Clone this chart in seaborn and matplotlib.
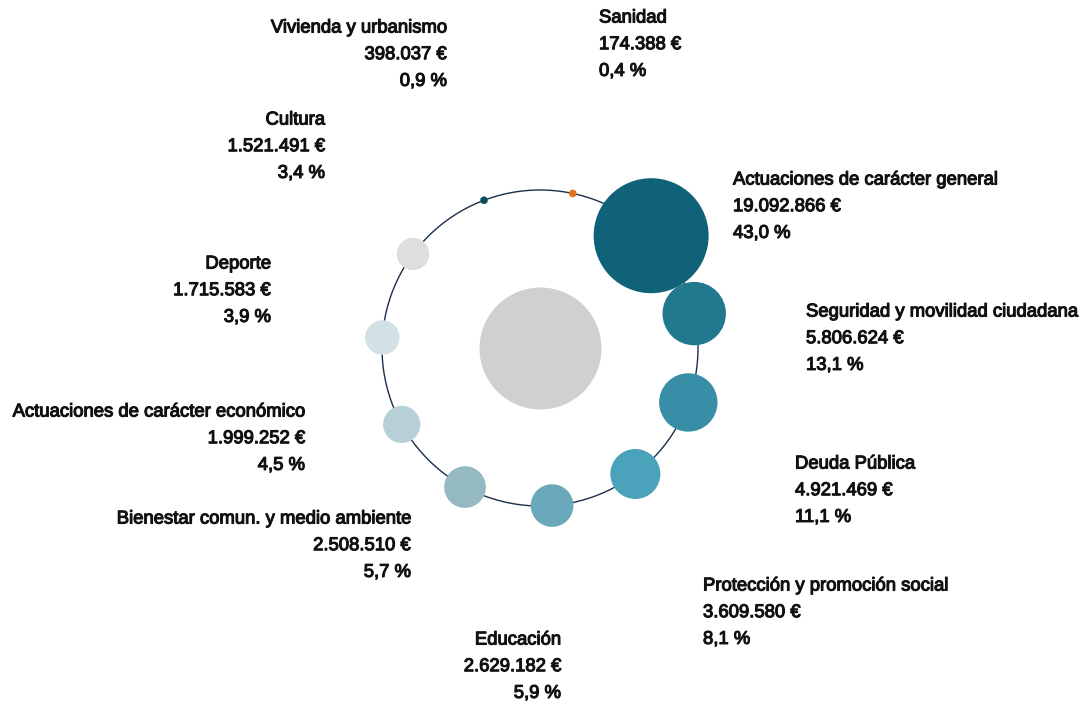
import numpy as np
import pandas as pd
import matplotlib
matplotlib.use("Agg")
import matplotlib.pyplot as plt
import matplotlib.patheffects as pe
from matplotlib.patches import Circle
import seaborn as sns

# Budget by spending area (euros), clockwise from the largest
categories = [
    "Actuaciones de carácter general",
    "Seguridad y movilidad ciudadana",
    "Deuda Pública",
    "Protección y promoción social",
    "Educación",
    "Bienestar comun. y medio ambiente",
    "Actuaciones de carácter económico",
    "Deporte",
    "Cultura",
    "Vivienda y urbanismo",
    "Sanidad",
]
amounts = [19092866, 5806624, 4921469, 3609580, 2629182,
           2508510, 1999252, 1715583, 1521491, 398037, 174388]
colors = ["#0f6278", "#22788f", "#388ea6", "#4aa3bb", "#69a9bb",
          "#95b9c2", "#b7d0d8", "#d2e1e6", "#dedede", "#0c4b5c", "#e07020"]

# Layout (pixel space of the figure)
W, H = 1085, 702
CX, CY, R = 540, 348, 158
START_DEG = 44.7
DOT_LIMIT = 500000          # amounts below this are shown as small dots
MAX_AREA = 6856             # marker area (pt^2) of the largest bubble

# label anchors: x, y of first line centre, alignment
label_pos = [
    (733, 180, "left"), (806, 312, "left"), (795, 464, "left"),
    (703, 586, "left"), (561, 640, "right"), (411, 519, "right"),
    (305, 412, "right"), (271, 264, "right"), (325, 120, "right"),
    (447, 28, "right"), (599, 18, "left"),
]
LINE_GAP = 26.7

total = sum(amounts)
n = len(categories)
ang = np.deg2rad(START_DEG + np.arange(n) * 360.0 / n)
df = pd.DataFrame({
    "cat": categories,
    "amount": amounts,
    "x": CX + R * np.sin(ang),
    "y": CY - R * np.cos(ang),
})

fig = plt.figure(figsize=(W / 100, H / 100), dpi=100)
ax = fig.add_axes([0, 0, 1, 1])

# central disc and orbit
ax.scatter([CX], [CY], s=7714, color="#d0d0d0", linewidths=0, zorder=1)
ax.add_patch(Circle((CX, CY), R, fill=False, edgecolor="#1b2f4b",
                    linewidth=1.0, zorder=2))

palette = dict(zip(categories, colors))
big = df[df["amount"] >= DOT_LIMIT]
small = df[df["amount"] < DOT_LIMIT]
sns.scatterplot(data=big, x="x", y="y", hue="cat", palette=palette,
                size="amount", sizes=(0, MAX_AREA),
                size_norm=(0, max(amounts)), linewidth=0, alpha=1,
                legend=False, ax=ax, zorder=3)
sns.scatterplot(data=small, x="x", y="y", hue="cat", palette=palette,
                s=30, linewidth=0, legend=False, ax=ax, zorder=3)
ax.set_xlim(0, W)
ax.set_ylim(H, 0)
ax.set_aspect("equal")
ax.axis("off")


def fmt_eur(v):
    return f"{v:,}".replace(",", ".") + " €"


def fmt_pct(v):
    return f"{v:.1f}".replace(".", ",") + " %"


stroke = [pe.withStroke(linewidth=0.8, foreground="#111111")]
for (name, amt), (lx, ly, ha) in zip(zip(categories, amounts), label_pos):
    lines = [name, fmt_eur(amt), fmt_pct(amt / total * 100)]
    for i, t in enumerate(lines):
        ax.text(lx, ly + i * LINE_GAP, t, ha=ha, va="center",
                fontsize=13.3, family="Liberation Sans", color="#111111",
                path_effects=stroke)

fig.savefig("out.png", dpi=100)
